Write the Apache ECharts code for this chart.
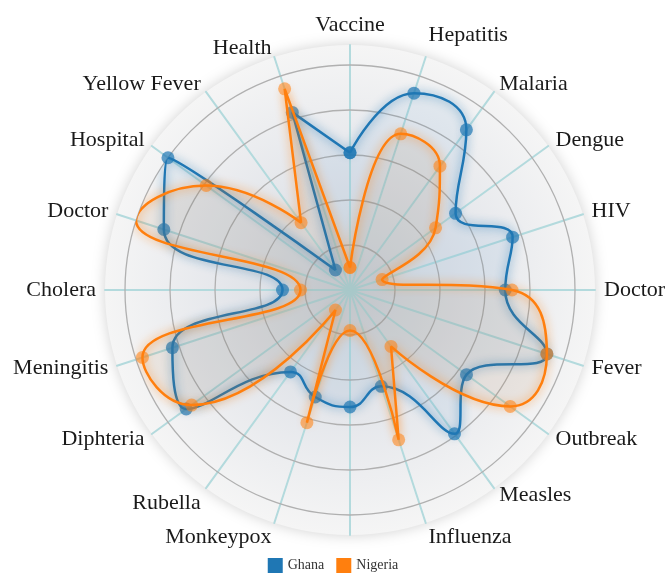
<!DOCTYPE html>
<html>
<head>
<meta charset="utf-8">
<script src="https://cdn.jsdelivr.net/npm/echarts@6/dist/echarts.min.js"></script>
<style>
  html, body { margin: 0; padding: 0; background: #fff; }
  #chart { width: 666px; height: 578px; }
</style>
</head>
<body>
<div id="chart"></div>
<script>
// axes, clockwise from the top
const indicators = ["Vaccine", "Hepatitis", "Malaria", "Dengue", "HIV", "Doctor", "Fever", "Outbreak",
  "Measles", "Influenza", "", "Monkeypox", "Rubella", "Diphteria", "Meningitis", "Cholera",
  "Doctor", "Hospital", "Yellow Fever", "Health"];

const ghana = [61, 92, 88, 58, 76, 69, 92, 64, 79, 45, 52, 50, 45, 90, 83, 30, 87, 100, 11, 83];
const nigeria = [10, 73, 68, 47, 15, 72, 92, 88, 31, 70, 18, 62, 11, 87, 97, 22, 100, 79, 37, 94];

const seriesNames = ["Ghana", "Nigeria"];
const colors = ["#1f77b4", "#ff7f0e"];

const font = "'Liberation Serif', 'DejaVu Serif', serif";
const center = [350, 290];

// a few labels sit a little further out in the original
const nudge = {
  Hepatitis: [0, 0, 26, 0],
  Influenza: [12, 0, 0, 0],
  Monkeypox: [12, 0, 0, 0],
  Rubella: [16, 0, 0, 0]
};

// radar indicators go counter-clockwise, so feed them reversed after the first
const radarIndicators = [indicators[0]].concat(indicators.slice(1).reverse())
  .map((name) => ({ name: name, max: 100 }));

let rich = {};
Object.keys(nudge).forEach((k) => {
  rich[k] = { padding: nudge[k], fontFamily: font, fontSize: 22, color: "#1a1a1a" };
});

function closedLoop(values) {
  let pts = values.map((v, i) => [v, i]);
  pts.push([values[0], values.length]);
  return pts;
}

let chart = echarts.init(document.getElementById("chart"), null, { renderer: "canvas" });

let option = {
  animation: false,
  backgroundColor: "#fff",
  legend: {
    data: seriesNames,
    bottom: 0,
    left: "center",
    icon: "rect",
    itemWidth: 15,
    itemHeight: 15,
    itemGap: 12,
    itemStyle: { opacity: 1 },
    textStyle: { fontFamily: font, fontSize: 14, color: "#333" }
  },
  radar: {
    z: 0,
    center: center,
    radius: 245,
    startAngle: 90,
    shape: "circle",
    splitNumber: 1,
    indicator: radarIndicators,
    nameGap: 9,
    axisName: {
      color: "#1a1a1a",
      fontFamily: font,
      fontSize: 22,
      formatter: (name) => (nudge[name] ? "{" + name + "|" + name + "}" : name),
      rich: rich
    },
    axisLine: { lineStyle: { color: "#b3dadd", width: 2 } },
    axisTick: { show: false },
    axisLabel: { show: false },
    splitLine: { show: false },
    splitArea: {
      show: true,
      areaStyle: {
        color: [{
          type: "radial", x: 0.5, y: 0.5, r: 0.5,
          colorStops: [
            { offset: 0, color: "#d2d7de" },
            { offset: 0.55, color: "#e6e8ec" },
            { offset: 1, color: "#f5f5f5" }
          ]
        }],
        shadowBlur: 14,
        shadowColor: "rgba(0,0,0,0.18)"
      }
    }
  },
  polar: { center: center, radius: 225 },
  angleAxis: {
    type: "value",
    min: 0,
    max: indicators.length,
    startAngle: 90,
    clockwise: true,
    axisLine: { show: false },
    axisTick: { show: false },
    axisLabel: { show: false },
    splitLine: { show: false }
  },
  radiusAxis: {
    z: 3,
    type: "value",
    min: 0,
    max: 100,
    interval: 20,
    axisLine: { show: false },
    axisTick: { show: false },
    axisLabel: { show: false },
    splitLine: { show: true, lineStyle: { color: "#b0b0b0", width: 1.3 } }
  },
  series: [
    {
      name: seriesNames[0],
      type: "line",
      z: 4,
      coordinateSystem: "polar",
      data: closedLoop(ghana),
      smooth: 0.5,
      symbol: "circle",
      symbolSize: 13,
      itemStyle: { color: colors[0], opacity: 0.7 },
      lineStyle: { color: colors[0], width: 2.5, shadowBlur: 10, shadowColor: "rgba(31,119,180,0.8)" },
      areaStyle: { color: "rgba(31,119,180,0.10)" }
    },
    {
      name: seriesNames[1],
      type: "line",
      z: 5,
      coordinateSystem: "polar",
      data: closedLoop(nigeria),
      smooth: 0.5,
      symbol: "circle",
      symbolSize: 13,
      itemStyle: { color: colors[1], opacity: 0.55 },
      lineStyle: { color: colors[1], width: 2.5, shadowBlur: 10, shadowColor: "rgba(255,127,14,0.8)" },
      areaStyle: { color: "rgba(175,110,55,0.14)" }
    }
  ]
};

chart.setOption(option);
</script>
</body>
</html>
